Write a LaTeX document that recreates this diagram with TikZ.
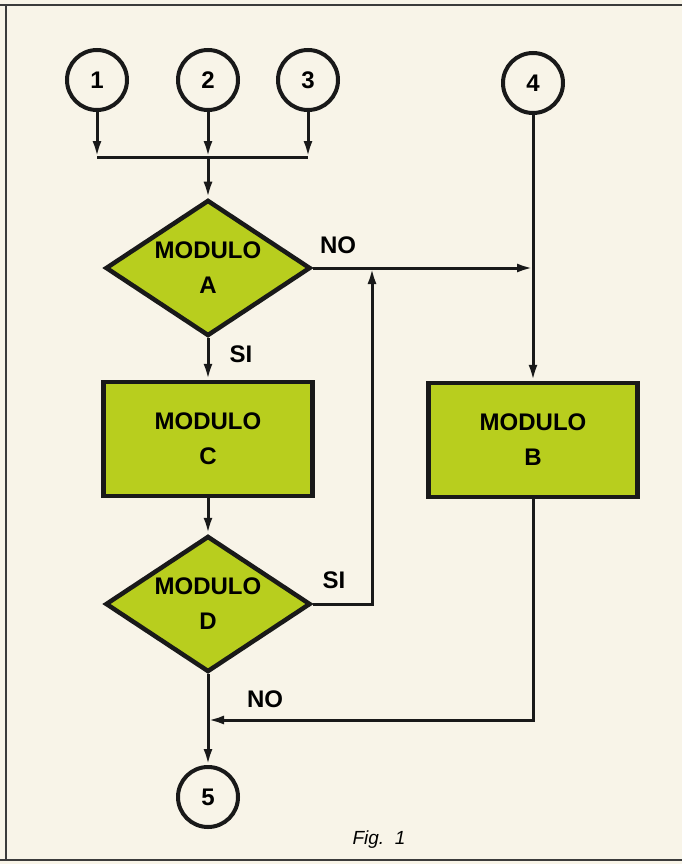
\documentclass[tikz,border=0pt]{standalone}
\usepackage{fontspec}
\setmainfont{Liberation Sans}
\usetikzlibrary{shapes.geometric,arrows.meta}
\definecolor{paper}{RGB}{248,244,232}
\definecolor{modgreen}{RGB}{184,206,30}
\definecolor{edge}{RGB}{25,25,25}
\tikzset{
  flow/.style={draw=edge,line width=3pt,-{Latex[length=16pt,width=9pt]}},
  wire/.style={draw=edge,line width=3pt},
  modbox/.style={draw=edge,line width=4.5pt,fill=modgreen,minimum width=209pt,minimum height=114pt,
    align=center,font=\fontsize{24}{35}\selectfont\bfseries},
  moddec/.style={draw=edge,diamond,line width=4.5pt,fill=modgreen,minimum width=205pt,minimum height=136pt,
    inner sep=0pt,aspect=1.5,align=center,font=\fontsize{24}{35}\selectfont\bfseries},
  conn/.style={draw=edge,circle,line width=4pt,fill=paper,minimum size=60pt,inner sep=0pt,
    font=\fontsize{24}{24}\selectfont\bfseries},
  lbl/.style={font=\fontsize{24}{24}\selectfont\bfseries}
}

\begin{document}
\begin{tikzpicture}[x=1pt,y=-1pt]
\fill[paper] (0,0) rectangle (682,864);
\useasboundingbox (0,0) rectangle (682,864);
\draw[edge!85,line width=2pt] (0,5) -- (682,5);
\draw[edge!85,line width=2pt] (6,5) -- (6,860);
\draw[edge!85,line width=2pt] (0,860) -- (682,860);

\node[conn] (c1) at (97,80) {1};
\node[conn] (c2) at (208,80) {2};
\node[conn] (c3) at (308,80) {3};
\node[conn] (c4) at (533,83) {4};
\node[moddec] (modA) at (208,268) {MODULO\\A};
\node[modbox] (modC) at (208,439) {MODULO\\C};
\node[modbox] (modB) at (533,440) {MODULO\\B};
\node[moddec] (modD) at (208,604) {MODULO\\D};
\node[conn] (c5) at (208,797) {5};

\coordinate (bus) at (208,157);
\coordinate (ja) at (modA.east -| c4);
\coordinate (loop) at (372,268);
\coordinate (jd) at (208,720);

\draw[flow] (c1) -- (c1 |- bus);
\draw[flow] (c3) -- (c3 |- bus);
\draw[flow] (c2) -- (bus);
\draw[wire] (c1 |- bus) -- (c3 |- bus);
\draw[flow] (bus) -- (modA);
\draw[flow] (modA.east) -- (ja);
\draw[flow] (c4) -- (modB);
\draw[flow] (modA) -- (modC);
\draw[flow] (modC) -- (modD);
\draw[flow] (modD.east) -| (loop);
\draw[flow] (modB) |- (jd);
\draw[flow] (modD) -- (c5);

\node[lbl] (noA) at (338,245) {NO};
\node[lbl] (siA) at (241,354) {SI};
\node[lbl] (siD) at (334,580) {SI};
\node[lbl] (noD) at (265,699) {NO};
\node[font=\fontsize{19}{19}\selectfont\itshape] (fig) at (379,840) {Fig.~~1};
\end{tikzpicture}
\end{document}
